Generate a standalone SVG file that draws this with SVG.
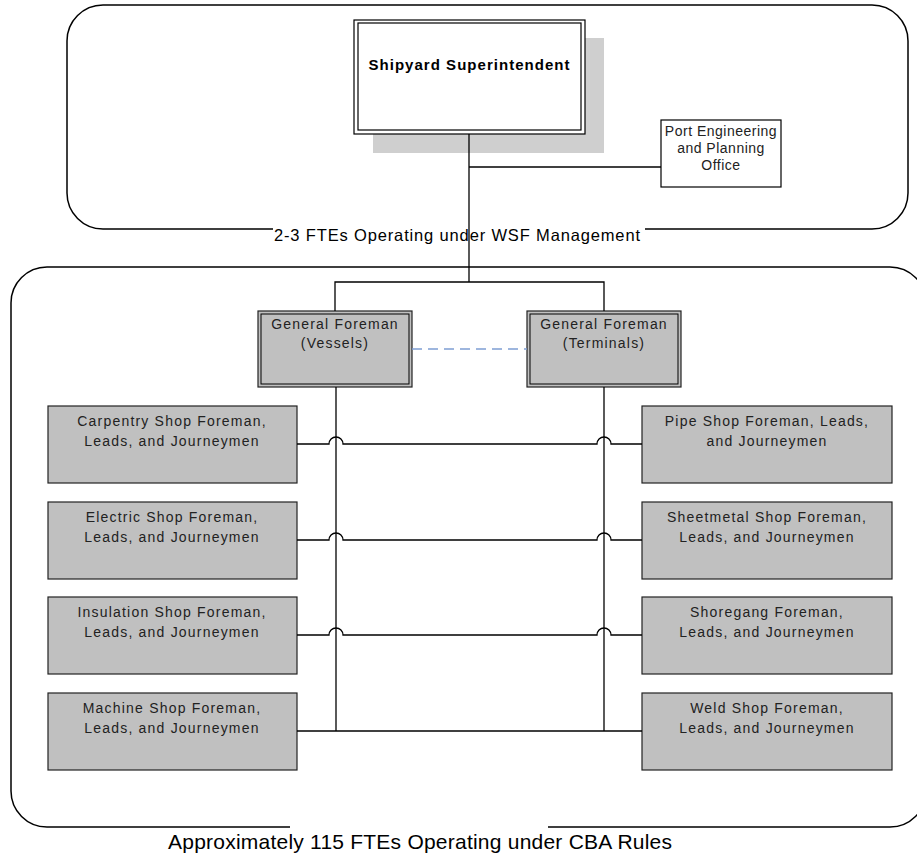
<svg xmlns="http://www.w3.org/2000/svg" width="917" height="854" viewBox="0 0 917 854">
<style>
  .frame{fill:none;stroke:#000;stroke-width:1.5}
  .box{fill:#c0c0c0;stroke:#222;stroke-width:1.2}
  .wbox{fill:#fff;stroke:#000;stroke-width:1.2}
  .t{font-family:"Liberation Sans",Arial,sans-serif;font-size:14px;fill:#222;text-anchor:middle;letter-spacing:1.2px}
  .lbl{font-family:"Liberation Sans",Arial,sans-serif;fill:#000;text-anchor:middle}
  .ln{fill:none;stroke:#000;stroke-width:1.3}
  .dash{fill:none;stroke:#7f9fd4;stroke-width:1.3;stroke-dasharray:10 6}
</style>

<g id="frames">
  <rect class="frame" x="67" y="5" width="841" height="224" rx="36" ry="36"/>
  <rect class="frame" x="11" y="267" width="915" height="560" rx="36" ry="36"/>
</g>

<g id="label-wsf">
  <rect x="273" y="223" width="372" height="24" fill="#fff"/>
  <text class="lbl" x="457" y="241" font-size="16.5" textLength="366" lengthAdjust="spacing">2-3 FTEs Operating under WSF Management</text>
</g>

<g id="label-cba">
  <rect x="290" y="822" width="258" height="32" fill="#fff"/>
  <text class="lbl" x="420" y="849" font-size="21" textLength="504" lengthAdjust="spacing">Approximately 115 FTEs Operating under CBA Rules</text>
</g>

<g id="superintendent">
  <rect x="373" y="38" width="231" height="115" fill="#cfcfcf"/>
  <rect class="wbox" x="354" y="20" width="231" height="114"/>
  <rect class="wbox" x="358" y="23" width="223" height="107"/>
  <text class="lbl" x="469" y="70" font-size="15" font-weight="bold" textLength="201" lengthAdjust="spacing">Shipyard Superintendent</text>
</g>

<g id="port-engineering">
  <rect class="wbox" x="661" y="120" width="120" height="67"/>
  <text class="t" x="721" y="136" font-size="13" style="letter-spacing:0.5px">Port Engineering</text>
  <text class="t" x="721" y="153" font-size="13" style="letter-spacing:0.5px">and Planning</text>
  <text class="t" x="721" y="170" font-size="13" style="letter-spacing:0.5px">Office</text>
</g>

<g id="gf-vessels">
  <rect class="box" x="258" y="311" width="154" height="76" stroke="#000"/>
  <rect fill="none" stroke="#000" stroke-width="1" x="261" y="314" width="148" height="70"/>
  <text class="t" x="335" y="329">General Foreman</text>
  <text class="t" x="335" y="348">(Vessels)</text>
</g>

<g id="gf-terminals">
  <rect class="box" x="527" y="311" width="154" height="76" stroke="#000"/>
  <rect fill="none" stroke="#000" stroke-width="1" x="530" y="314" width="148" height="70"/>
  <text class="t" x="604" y="329">General Foreman</text>
  <text class="t" x="604" y="348">(Terminals)</text>
</g>

<g id="carpentry">
  <rect class="box" x="48" y="406" width="249" height="77"/>
  <text class="t" x="172" y="426">Carpentry Shop Foreman,</text>
  <text class="t" x="172" y="446">Leads, and Journeymen</text>
</g>
<g id="electric">
  <rect class="box" x="48" y="502" width="249" height="77"/>
  <text class="t" x="172" y="522">Electric Shop Foreman,</text>
  <text class="t" x="172" y="542">Leads, and Journeymen</text>
</g>
<g id="insulation">
  <rect class="box" x="48" y="597" width="249" height="77"/>
  <text class="t" x="172" y="617">Insulation Shop Foreman,</text>
  <text class="t" x="172" y="637">Leads, and Journeymen</text>
</g>
<g id="machine">
  <rect class="box" x="48" y="693" width="249" height="77"/>
  <text class="t" x="172" y="713">Machine Shop Foreman,</text>
  <text class="t" x="172" y="733">Leads, and Journeymen</text>
</g>

<g id="pipe">
  <rect class="box" x="642" y="406" width="250" height="77"/>
  <text class="t" x="767" y="426">Pipe Shop Foreman, Leads,</text>
  <text class="t" x="767" y="446">and Journeymen</text>
</g>
<g id="sheetmetal">
  <rect class="box" x="642" y="502" width="250" height="77"/>
  <text class="t" x="767" y="522">Sheetmetal Shop Foreman,</text>
  <text class="t" x="767" y="542">Leads, and Journeymen</text>
</g>
<g id="shoregang">
  <rect class="box" x="642" y="597" width="250" height="77"/>
  <text class="t" x="767" y="617">Shoregang Foreman,</text>
  <text class="t" x="767" y="637">Leads, and Journeymen</text>
</g>
<g id="weld">
  <rect class="box" x="642" y="693" width="250" height="77"/>
  <text class="t" x="767" y="713">Weld Shop Foreman,</text>
  <text class="t" x="767" y="733">Leads, and Journeymen</text>
</g>

<g id="connectors">
  <path class="ln" d="M469,134 V282"/>
  <path class="ln" d="M469,167 H661"/>
  <path class="ln" d="M335,311 V282 H604 V311"/>
  <path class="dash" d="M412,349 H527"/>
  <path class="ln" d="M336,387 V731"/>
  <path class="ln" d="M604,387 V731"/>
  <path class="ln" d="M297,444 H329 A7,7 0 0 1 343,444 H597 A7,7 0 0 1 611,444 H642"/>
  <path class="ln" d="M297,540 H329 A7,7 0 0 1 343,540 H597 A7,7 0 0 1 611,540 H642"/>
  <path class="ln" d="M297,635 H329 A7,7 0 0 1 343,635 H597 A7,7 0 0 1 611,635 H642"/>
  <path class="ln" d="M297,731 H642"/>
</g>
</svg>
